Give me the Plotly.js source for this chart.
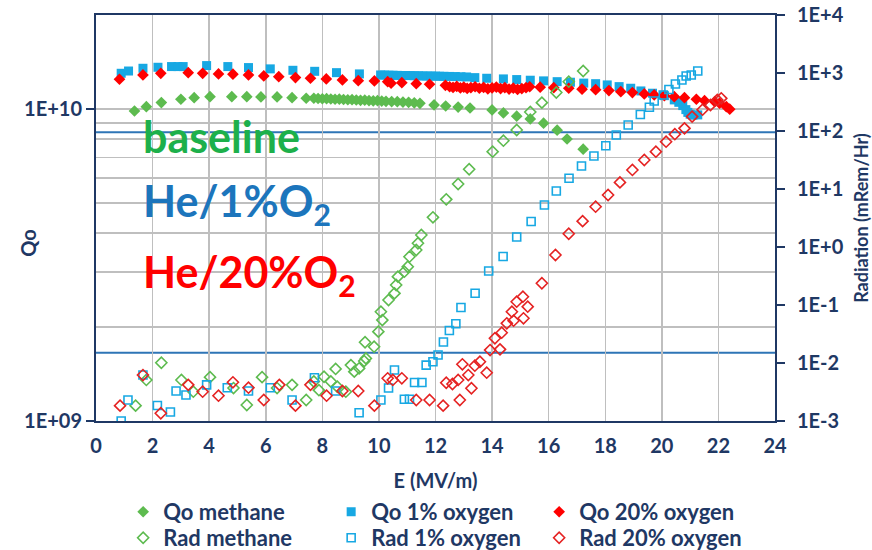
<!DOCTYPE html>
<html>
<head>
<meta charset="utf-8">
<script src="https://cdn.plot.ly/plotly-3.0.1.min.js"></script>
<style>html,body{margin:0;padding:0;background:#fff;}#chart{width:872px;height:550px;}</style>
</head>
<body>
<div id="chart"></div>
<script>
// ---------- data ----------
const qoMethaneE = [1.36,1.78,2.31,3.00,3.47,4.03,4.80,5.33,5.83,6.40,6.93,7.43,
  7.70,7.85,8.00,8.15,8.30,8.45,8.60,8.75,8.90,9.05,9.20,9.35,9.50,9.65,9.80,9.95,10.10,10.25,10.45,10.65,10.85,11.05,11.25,11.45,
  11.95,12.36,12.80,13.22,14.00,14.40,14.87,15.35,15.82,16.30,16.65,17.22];
const qoMethaneQ = [9.85e9,1.017e10,1.048e10,1.074e10,1.087e10,1.095e10,1.095e10,1.095e10,1.093e10,1.093e10,1.087e10,1.082e10,
  1.082e10,1.080e10,1.078e10,1.079e10,1.076e10,1.074e10,1.075e10,1.072e10,1.070e10,1.071e10,1.068e10,1.066e10,1.067e10,1.064e10,1.062e10,1.063e10,1.060e10,1.058e10,1.056e10,1.055e10,1.052e10,1.050e10,1.046e10,1.042e10,
  1.030e10,1.022e10,1.014e10,1.007e10,9.93e9,9.71e9,9.48e9,9.29e9,9.00e9,8.55e9,8.01e9,7.43e9];

const qo1E = [0.89,1.15,1.66,2.19,2.67,2.90,3.08,3.91,4.66,5.39,6.16,6.96,7.73,8.50,9.31,
  10.06,10.20,10.35,10.50,10.65,10.80,10.95,11.10,11.25,11.40,11.55,11.70,11.85,12.00,12.15,12.30,12.50,12.70,12.90,13.10,
  13.39,13.81,14.40,14.87,15.35,15.82,16.30,16.77,17.24,17.66,18.07,18.49,18.90,19.26,19.67,20.09,20.44,20.60,20.74,20.85,20.92,21.00,21.10,21.27];
const qo1Q = [1.301e10,1.323e10,1.350e10,1.360e10,1.367e10,1.367e10,1.367e10,1.377e10,1.367e10,1.357e10,1.344e10,1.330e10,1.320e10,1.307e10,1.295e10,
  1.285e10,1.284e10,1.283e10,1.282e10,1.281e10,1.280e10,1.280e10,1.279e10,1.278e10,1.277e10,1.276e10,1.275e10,1.275e10,1.274e10,1.273e10,1.272e10,1.271e10,1.270e10,1.268e10,1.266e10,
  1.260e10,1.254e10,1.248e10,1.242e10,1.236e10,1.230e10,1.223e10,1.218e10,1.210e10,1.205e10,1.194e10,1.179e10,1.165e10,1.142e10,1.123e10,1.103e10,1.069e10,1.050e10,1.025e10,9.95e9,9.75e9,9.62e9,9.55e9,9.57e9];

const qo20E = [0.83,1.66,2.29,3.26,3.77,4.33,4.84,5.39,5.93,6.46,7.05,7.58,8.14,8.71,9.27,9.84,10.31,10.43,10.81,11.32,11.79,
  12.35,12.50,12.62,12.75,12.88,13.00,13.12,13.25,13.40,13.55,13.70,13.85,14.00,14.15,14.30,14.45,14.60,14.75,14.90,15.05,15.20,15.33,
  15.70,16.18,16.71,17.18,17.66,18.13,18.55,18.96,19.38,19.73,20.09,20.44,20.80,21.22,21.51,21.87,22.04,22.28,22.40];
const qo20Q = [1.245e10,1.285e10,1.301e10,1.307e10,1.301e10,1.295e10,1.292e10,1.285e10,1.276e10,1.269e10,1.260e10,1.254e10,1.248e10,1.239e10,1.232e10,1.230e10,1.223e10,1.209e10,1.214e10,1.205e10,1.200e10,
  1.190e10,1.178e10,1.172e10,1.182e10,1.168e10,1.175e10,1.163e10,1.170e10,1.178e10,1.165e10,1.172e10,1.160e10,1.168e10,1.175e10,1.162e10,1.170e10,1.158e10,1.166e10,1.155e10,1.162e10,1.170e10,1.178e10,
  1.174e10,1.170e10,1.165e10,1.157e10,1.153e10,1.145e10,1.136e10,1.128e10,1.117e10,1.109e10,1.103e10,1.095e10,1.087e10,1.074e10,1.063e10,1.055e10,1.043e10,1.017e10,9.985e9];

const radMethaneE = [1.40,1.78,2.31,3.02,3.44,4.03,4.86,5.33,5.87,6.40,6.93,7.43,7.70,7.88,8.06,8.30,8.47,8.53,8.83,9.01,9.13,9.30,9.48,9.54,9.51,9.83,
  9.98,10.12,10.07,10.34,10.55,10.61,10.67,10.90,11.02,11.08,11.32,11.38,11.50,11.91,12.38,12.80,13.19,14.02,14.40,14.87,15.35,15.76,16.27,16.71,17.22];
const radMethaneR = [1.84e-3,5.1e-3,1.01e-2,5.1e-3,3.2e-3,5.7e-3,3.7e-3,1.89e-3,5.7e-3,3.7e-3,4.2e-3,2.3e-3,4.8e-3,3.4e-3,5.8e-3,4.8e-3,7.9e-3,3.9e-3,3.2e-3,9.2e-3,7.1e-3,8.1e-3,1.08e-2,1.2e-2,2.28e-2,1.91e-2,
  3.47e-2,5.5e-2,7.66e-2,0.122,0.159,0.221,0.308,0.375,0.457,0.68,0.887,1.16,1.61,3.25,6.64,12.2,21.9,44,68,104,213,308,461,708,1082];

const rad1E = [0.89,1.13,1.66,2.17,2.63,2.83,3.18,3.91,4.64,5.39,6.16,6.93,7.72,8.47,9.30,10.07,10.34,10.55,10.90,11.08,11.26,11.52,11.67,11.91,12.09,12.28,12.49,12.72,12.90,
  13.40,13.88,14.39,14.87,15.38,15.85,16.27,16.72,17.16,17.60,18.02,18.39,18.81,19.24,19.56,19.73,20.05,20.25,20.48,20.71,20.86,21.04,21.27];
const rad1R = [1.0e-3,2.3e-3,6.2e-3,1.85e-3,1.43e-3,3.29e-3,2.81e-3,4.2e-3,3.75e-3,3.29e-3,3.75e-3,2.3e-3,5.58e-3,3.29e-3,1.39e-3,2.3e-3,3.71e-3,7.57e-3,2.37e-3,2.37e-3,4.61e-3,4.61e-3,9.2e-3,1.05e-2,1.37e-2,2.30e-2,3.63e-2,4.76e-2,9.05e-2,
  0.159,0.386,0.686,1.49,2.75,5.30,9.24,15.3,24.9,37.1,55.8,85.3,127,192,256,329,418,520,646,757,888,924,1082];

const rad20E = [0.85,1.66,2.29,3.26,3.77,4.33,4.84,5.39,5.93,6.48,7.05,7.58,8.15,8.71,9.27,9.84,10.31,10.49,10.81,11.32,11.79,12.27,12.38,12.60,12.80,12.86,12.95,13.16,13.27,13.39,13.57,13.81,13.93,14.10,14.28,14.34,14.52,14.76,14.70,14.87,15.09,15.11,15.26,
  15.76,16.24,16.71,17.20,17.66,18.10,18.52,18.96,19.38,19.79,20.15,20.46,20.80,21.07,21.44,21.72,21.96,22.10,22.40];
const rad20R = [1.84e-3,6.2e-3,1.36e-3,4.2e-3,3.2e-3,2.73e-3,4.65e-3,3.75e-3,2.3e-3,4.2e-3,1.84e-3,4.2e-3,2.73e-3,3.29e-3,3.29e-3,1.84e-3,5.45e-3,5.1e-3,5.45e-3,2.3e-3,2.3e-3,1.84e-3,4.57e-3,4.35e-3,5.1e-3,2.3e-3,9.5e-3,6.2e-3,3.67e-3,8.98e-3,1.05e-2,6.8e-3,1.67e-2,2.67e-2,1.72e-2,3.33e-2,4.83e-2,5.36e-2,7.66e-2,0.114,0.139,5.9e-2,9.35e-2,
  0.237,0.728,1.69,2.79,4.95,7.88,13.0,21.3,31.6,44,65.4,88.1,111,177,233,281,342,366];

const refLevels = [95, 0.015];   // the two blue reference lines on the radiation axis
const qoTicks = [1e9, 1e10];
const qoTickText = ['1E+09', '1E+10'];
const qoMinor = [2e9,3e9,4e9,5e9,6e9,7e9,8e9,9e9,2e10];
const radTicks = [1e-3,1e-2,1e-1,1,10,100,1000,10000];
const radTickText = ['1E-3','1E-2','1E-1','1E+0','1E+1','1E+2','1E+3','1E+4'];

// ---------- styling ----------
const NAVY = '#1F3864';
const GRID = '#BFBFBF';
const GREEN = '#5DBB4F', BLUE = '#17A8E3', RED = '#FF0000', RED_O = '#E52222';
const FONT = 'Lato, "Open Sans", sans-serif';

function tr(name, x, y, axis, symbol, color, size, legend, open) {
  return {
    type: 'scatter', mode: 'markers', name: name, x: x, y: y, yaxis: axis, legend: legend,
    marker: open ? {symbol: symbol, color: color, size: size, line: {color: color, width: 1.6}}
                 : {symbol: symbol, color: color, size: size, line: {width: 0}},
    hoverinfo: 'x+y'
  };
}

const data = [
  tr('Qo methane', qoMethaneE, qoMethaneQ, 'y', 'diamond', GREEN, 9, 'legend', false),
  tr('Qo 1% oxygen', qo1E, qo1Q, 'y', 'square', BLUE, 9, 'legend', false),
  tr('Qo 20% oxygen', qo20E, qo20Q, 'y', 'diamond', RED, 9, 'legend', false),
  tr('Rad methane', radMethaneE, radMethaneR, 'y2', 'diamond-open', GREEN, 8.5, 'legend2', true),
  tr('Rad 1% oxygen', rad1E, rad1R, 'y2', 'square-open', BLUE, 8, 'legend2', true),
  tr('Rad 20% oxygen', rad20E, rad20R, 'y2', 'diamond-open', RED_O, 8.5, 'legend2', true)
];

const tickFont = {family: FONT, size: 20, color: NAVY, weight: 700};
const legFont = {family: FONT, size: 22, color: NAVY, weight: 700};
const titleFont = {family: FONT, size: 20, color: NAVY, weight: 700};

const layout = {
  width: 872, height: 550,
  margin: {l: 96, r: 97, t: 15, b: 129, autoexpand: false},
  paper_bgcolor: '#ffffff', plot_bgcolor: '#ffffff',
  showlegend: true,
  xaxis: {
    range: [0, 24], tick0: 0, dtick: 2, showgrid: true, gridcolor: GRID, gridwidth: 1.5,
    zeroline: false, showline: true, linecolor: NAVY, linewidth: 2, mirror: true,
    ticks: 'outside', ticklen: 6, tickcolor: 'rgba(0,0,0,0)', tickfont: tickFont,
    title: {text: 'E (MV/m)', font: titleFont, standoff: 18}
  },
  yaxis: {
    type: 'log', range: [9, Math.log10(2e10)], tickmode: 'array', tickvals: qoTicks, ticktext: qoTickText,
    ticks: 'outside', ticklen: 8, tickwidth: 2, tickcolor: NAVY, tickfont: tickFont,
    showgrid: true, gridcolor: GRID, gridwidth: 1.5, zeroline: false,
    minor: {tickmode: 'array', tickvals: qoMinor, showgrid: true, gridcolor: GRID, gridwidth: 1.5, ticks: ''},
    showline: true, linecolor: NAVY, linewidth: 2
  },
  yaxis2: {
    type: 'log', range: [-3, 4], overlaying: 'y', side: 'right', tickmode: 'array', tickvals: radTicks, ticktext: radTickText,
    ticks: 'outside', ticklen: 8, tickwidth: 2, tickcolor: NAVY, tickfont: tickFont, ticklabelstandoff: 8,
    showgrid: false, zeroline: false, showline: true, linecolor: NAVY, linewidth: 2,
    title: {text: 'Radiation (mRem/Hr)', font: {family: FONT, size: 18, color: NAVY, weight: 700}, standoff: 14}
  },
  legend: {orientation: 'h', x: 0.04, xanchor: 'left', y: -0.224, yanchor: 'middle',
    entrywidth: 163, font: legFont, itemwidth: 30, bgcolor: 'rgba(0,0,0,0)'},
  legend2: {orientation: 'h', x: 0.04, xanchor: 'left', y: -0.288, yanchor: 'middle',
    entrywidth: 163, font: legFont, itemwidth: 30, bgcolor: 'rgba(0,0,0,0)'},
  shapes: refLevels.map(v => ({type: 'line', xref: 'paper', x0: 0, x1: 1, yref: 'y2',
    y0: v, y1: v, line: {color: '#2E75B6', width: 2}, layer: 'below'})),
  annotations: [
    {text: 'baseline', color: '#1DB04B', y: 0.70},
    {text: 'He/1%O<sub>2</sub>', color: '#1C75BC', y: 0.535},
    {text: 'He/20%O<sub>2</sub>', color: '#FF0000', y: 0.362}
  ].map(a => ({xref: 'paper', yref: 'paper', x: 0.066, y: a.y, xanchor: 'left', yanchor: 'middle',
    text: a.text, showarrow: false, font: {family: FONT, size: 43, color: a.color, weight: 700}}))
  .concat([{xref: 'paper', yref: 'paper', x: -0.0995, y: 0.44, xanchor: 'center', yanchor: 'middle',
    text: 'Qo', textangle: -90, showarrow: false, font: titleFont}])
};

Plotly.newPlot('chart', data, layout, {displayModeBar: false, staticPlot: true});
</script>
</body>
</html>
